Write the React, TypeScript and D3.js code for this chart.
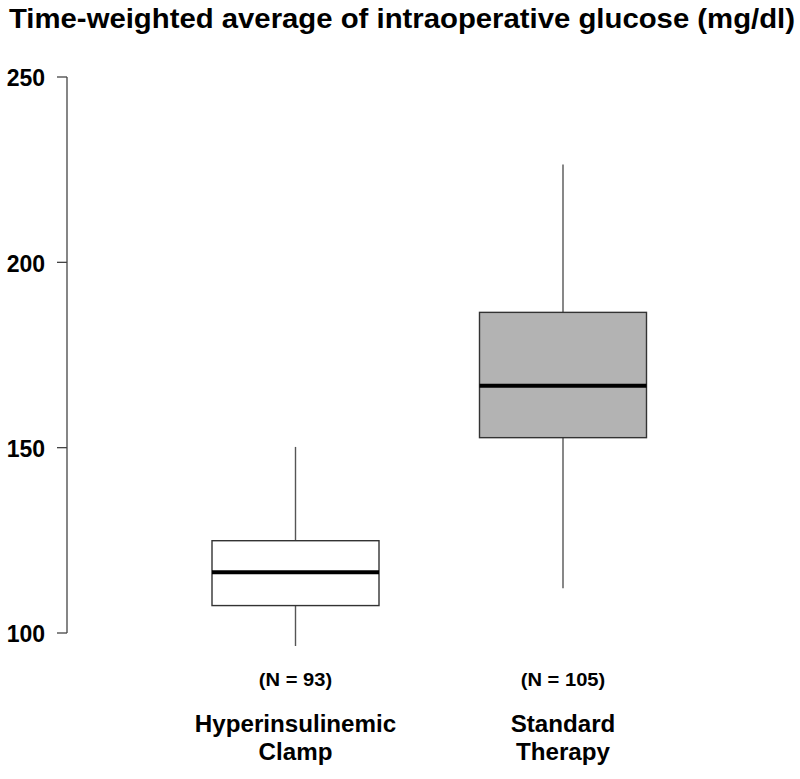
import * as React from 'react';
import * as d3 from 'd3';

const groups = ['Hyperinsulinemic Clamp', 'Standard Therapy'];
const groupLines = [['Hyperinsulinemic', 'Clamp'], ['Standard', 'Therapy']];
const counts = ['(N = 93)', '(N = 105)'];
const whiskerLow = [96.5, 112.1];
const q1 = [107.4, 152.7];
const medians = [116.4, 166.7];
const q3 = [124.9, 186.5];
const whiskerHigh = [150.2, 226.4];
const fills = ['#ffffff', '#b3b3b3'];
const yTicks = [100, 150, 200, 250];

const W = 800;
const H = 779;

export default function App() {
  const y = d3.scaleLinear().domain([100, 250]).range([633, 77]);
  const x = d3.scaleLinear().domain([1, 2]).range([295.5, 563]);
  const boxW = 167;
  const font = '"Liberation Sans", Arial, sans-serif';

  return (
    <svg width={W} height={H} style={{ display: 'block', position: 'absolute', left: 0, top: 0 }}>
      <rect width={W} height={H} fill="#fff" />
      <text
        x={9}
        y={28}
        fontFamily={font}
        fontWeight="bold"
        fontSize={28}
        textLength={786}
        lengthAdjust="spacingAndGlyphs"
      >
        Time-weighted average of intraoperative glucose (mg/dl)
      </text>

      {/* y axis */}
      <line x1={67} x2={67} y1={y(250)} y2={y(100)} stroke="#444" strokeWidth={1.3} />
      {yTicks.map(t => (
        <g key={t}>
          <line x1={57} x2={67} y1={y(t)} y2={y(t)} stroke="#444" strokeWidth={1.3} />
          <text x={45} y={y(t) + 1} dy="0.36em" textAnchor="end" fontFamily={font} fontWeight="bold" fontSize={23}>
            {t}
          </text>
        </g>
      ))}

      {groups.map((g, i) => {
        const cx = x(i + 1);
        return (
          <g key={g}>
            <line x1={cx} x2={cx} y1={y(whiskerHigh[i])} y2={y(q3[i])} stroke="#555" strokeWidth={1.4} />
            <line x1={cx} x2={cx} y1={y(q1[i])} y2={y(whiskerLow[i])} stroke="#555" strokeWidth={1.4} />
            <rect
              x={cx - boxW / 2}
              y={y(q3[i])}
              width={boxW}
              height={y(q1[i]) - y(q3[i])}
              fill={fills[i]}
              stroke="#333"
              strokeWidth={1.4}
            />
            <line
              x1={cx - boxW / 2}
              x2={cx + boxW / 2}
              y1={y(medians[i])}
              y2={y(medians[i])}
              stroke="#000"
              strokeWidth={4}
            />
            <g transform={`translate(${cx},679) scale(1.06,1)`}>
              <text dy="0.36em" textAnchor="middle" fontFamily={font} fontWeight="bold" fontSize={19}>
                {counts[i]}
              </text>
            </g>
            {groupLines[i].map((l, j) => (
              <g key={l} transform={`translate(${cx},${724 + j * 28}) scale(1.05,1)`}>
                <text dy="0.36em" textAnchor="middle" fontFamily={font} fontWeight="bold" fontSize={23}>
                  {l}
                </text>
              </g>
            ))}
          </g>
        );
      })}
    </svg>
  );
}
